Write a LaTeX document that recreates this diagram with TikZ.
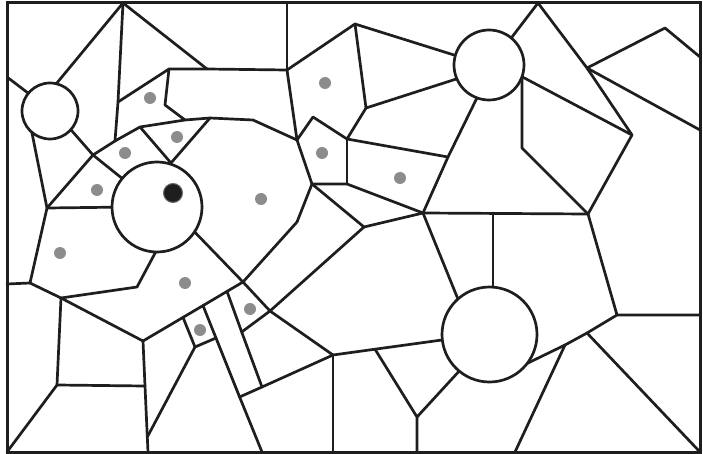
\documentclass[tikz,border=0pt]{standalone}
\definecolor{ink}{HTML}{1E1E1E}
\definecolor{dotgray}{HTML}{8C8C8C}
\begin{document}
\begin{tikzpicture}[x=1pt,y=-1pt,
  edge/.style={line width=2.7pt, draw=ink, line cap=round, line join=round},
  frame/.style={line width=3pt, draw=ink},
  ring/.style={line width=2.7pt, draw=ink, fill=white},
  site/.style={fill=dotgray, draw=none},
  mainsite/.style={fill=ink, draw=dotgray!70!ink, line width=1pt}]
\useasboundingbox (0,0) rectangle (703,454);
\fill[white] (0,0) rectangle (703,454);
% vertices
\coordinate (v1) at (123,3);
\coordinate (v2) at (115,141);
\coordinate (v3) at (207,69);
\coordinate (v4) at (47,208);
\coordinate (v5) at (93,155);
\coordinate (v6) at (140,127);
\coordinate (v7) at (185,120);
\coordinate (v8) at (210,118);
\coordinate (v9) at (253,120);
\coordinate (v10) at (297,140);
\coordinate (v11) at (118,102);
\coordinate (v12) at (169,69);
\coordinate (v13) at (165,105);
\coordinate (v14) at (287,70);
\coordinate (v15) at (355,24);
\coordinate (v16) at (366,108);
\coordinate (v17) at (347,139);
\coordinate (v18) at (313,117);
\coordinate (v19) at (448,157);
\coordinate (v20) at (347,184);
\coordinate (v21) at (312,184);
\coordinate (v22) at (423,213);
\coordinate (v23) at (364,227);
\coordinate (v24) at (297,222);
\coordinate (v25) at (243,282);
\coordinate (v26) at (137,287);
\coordinate (v27) at (538,3);
\coordinate (v28) at (632,135);
\coordinate (v32) at (587,68);
\coordinate (v33) at (588,214);
\coordinate (v34) at (333,355);
\coordinate (v35) at (30,283);
\coordinate (v36) at (61,298);
\coordinate (v37) at (143,341);
\coordinate (v38) at (57,385);
\coordinate (vA) at (270,311);
\coordinate (P) at (171,163);
\coordinate (a) at (183,317.4);
\coordinate (b) at (203,305.6);
\coordinate (c) at (227,291.4);
\coordinate (d) at (195,347);
\coordinate (e) at (216,338);
\coordinate (f) at (241.7,332);
\coordinate (g) at (262,387);
\coordinate (h) at (239.6,397);
\coordinate (k) at (147.3,437);
\coordinate (m) at (145,386);
\coordinate (n) at (375,349.2);
\coordinate (o) at (417,417);
\coordinate (r1) at (617,315);
\coordinate (r2) at (587,333);
\coordinate (r3) at (565,345);
\coordinate (t1) at (665,28);
% frame
\draw[frame] (7,3) rectangle (700,452);
% edges
\draw[edge] (v1) -- (47,95);
\draw[edge] (v1) -- (v11) -- (v2);
\draw[edge] (v1) -- (v3);
\draw[edge] (7,77) -- (38.5,101);
\draw[edge] (v4) -- (29,118);
\draw[edge] (v5) -- (58,115);
\draw[edge] (v5) -- (139,192);
\draw[edge] (v5) -- (v2) -- (v6);
\draw[edge] (v5) -- (v4);
\draw[edge] (v6) -- (v7) -- (v8) -- (v9) -- (v10);
\draw[edge] (v6) -- (P) -- (v8);
\draw[edge] (v11) -- (v12) -- (v13) -- (v7);
\draw[edge] (v12) -- (v3) -- (v14);
\draw[edge] (v14) -- (287,3);
\draw[edge] (v14) -- (v15) -- (470,60);
\draw[edge] (v15) -- (v16) -- (475,73);
\draw[edge] (v16) -- (v17);
\draw[edge] (v14) -- (v10) -- (v18) -- (v17);
\draw[edge] (v17) -- (v19) -- (485,81.5);
\draw[edge] (v17) -- (v20);
\draw[edge] (v10) -- (v21) -- (v20) -- (v22);
\draw[edge] (v19) -- (v22);
\draw[edge] (v21) -- (v23) -- (v22);
\draw[edge] (v21) -- (v24) -- (v25) -- (185,222);
\draw[edge] (v4) -- (130,207);
\draw[edge] (v4) -- (v35) -- (7,284);
\draw[edge] (v35) -- (v36) -- (v37);
\draw[edge] (v36) -- (v26) -- (161,242);
\draw[edge] (v36) -- (v38) -- (7,452);
\draw[edge] (v38) -- (m);
\draw[edge] (v37) -- (m) -- (k) -- (148,452);
\draw[edge] (v37) -- (a) -- (b) -- (c) -- (v25);
\draw[edge] (a) -- (d) -- (e);
\draw[edge] (b) -- (e) -- (h) -- (262,452);
\draw[edge] (d) -- (k);
\draw[edge] (c) -- (f) -- (g);
\draw[edge] (f) -- (vA);
\draw[edge] (v25) -- (vA) -- (v23);
\draw[edge] (vA) -- (v34);
\draw[edge] (h) -- (g) -- (v34);
\draw[edge] (v34) -- (333,452);
\draw[edge] (v34) -- (n) -- (460,337.5);
\draw[edge] (n) -- (o) -- (417,452);
\draw[edge] (o) -- (473,356);
\draw[edge] (v22) -- (464,314);
\draw[edge] (v22) -- (v33);
\draw[edge] (493,213) -- (493,300);
\draw[edge] (v33) -- (r1) -- (700,315);
\draw[edge] (r1) -- (r2) -- (r3) -- (509.5,372);
\draw[edge] (r2) -- (700,452);
\draw[edge] (r3) -- (515,452);
\draw[edge] (v33) -- (v28) -- (v32) -- (v27) -- (499,54);
\draw[edge] (v32) -- (t1) -- (700,57);
\draw[edge] (v32) -- (700,130);
\draw[edge] (v28) -- (505.5,68);
\draw[edge] (522,70) -- (522,148) -- (v33);
% circles
\draw[ring] (50,111) circle[radius=28];
\draw[ring] (157,207) circle[radius=45];
\draw[ring] (489,65) circle[radius=35];
\draw[ring] (489.5,334.5) circle[radius=47.5];
% sites
\filldraw[mainsite] (173,193) circle[radius=9.5];
\foreach \p in {(150,98),(177,137),(125,153),(97,190),(60,253),(185,283),
  (200,330),(250,309),(261,199),(325,83),(322,153),(400,178)}
  \fill[site] \p circle[radius=6];
\end{tikzpicture}
\end{document}
